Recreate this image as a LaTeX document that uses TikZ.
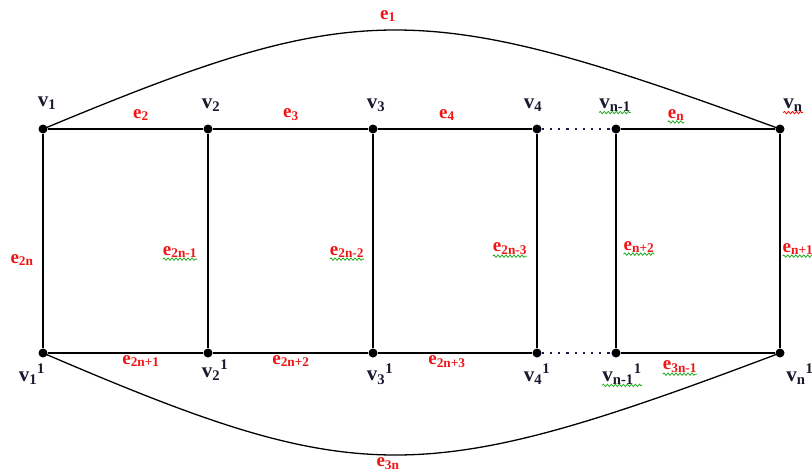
\documentclass[tikz,border=0pt]{standalone}
\usepackage{fontspec}
\setmainfont{Liberation Serif}
\usetikzlibrary{decorations.pathmorphing}
\definecolor{vcol}{RGB}{25,25,45}
\definecolor{ecol}{RGB}{240,20,20}
\definecolor{sqg}{RGB}{40,170,40}
\definecolor{dotcol}{RGB}{20,30,80}
\tikzset{
  vtx/.style={circle,fill=black,inner sep=0pt,minimum size=9pt},
  vlab/.style={text=vcol,font=\fontsize{21}{23}\selectfont\bfseries,inner sep=0pt},
  elab/.style={text=ecol,font=\fontsize{19}{21}\selectfont\bfseries,inner sep=0pt},
  edge/.style={draw=black,line width=1.5pt},
  dots/.style={draw=dotcol,line width=2.2pt,dash pattern=on 2.2pt off 6pt},
  squig/.style={draw=sqg,line width=0.8pt,decorate,decoration={snake,amplitude=1.2pt,segment length=4pt}},
  squigr/.style={squig,draw=red}
}
\begin{document}
\begin{tikzpicture}[x=1pt,y=-1pt]
\useasboundingbox (0,0) rectangle (812,475);
% vertices
\node[vtx] (v1) at (43,129) {};
\node[vtx] (v2) at (208,129) {};
\node[vtx] (v3) at (373,129) {};
\node[vtx] (v4) at (537,129) {};
\node[vtx] (vm) at (616,129) {};
\node[vtx] (vn) at (780,129) {};
\node[vtx] (w1) at (43,353) {};
\node[vtx] (w2) at (208,353) {};
\node[vtx] (w3) at (373,353) {};
\node[vtx] (w4) at (537,353) {};
\node[vtx] (wm) at (616,353) {};
\node[vtx] (wn) at (780,353) {};
% edges
\draw[edge] (v1) -- (v2) -- (v3) -- (v4);
\draw[edge] (vm) -- (vn);
\draw[edge] (w1) -- (w2) -- (w3) -- (w4);
\draw[edge] (wm) -- (wn);
\draw[dots] (v4) -- (vm);
\draw[dots] (w4) -- (wm);
\foreach \a/\b in {v1/w1,v2/w2,v3/w3,v4/w4,vm/wm,vn/wn} \draw[edge] (\a) -- (\b);
\draw[edge,line width=1.3pt] (v1.center) .. controls (360,-3) and (420,-3) .. (vn.center);
\draw[edge,line width=1.3pt] (w1.center) .. controls (360,489) and (420,489) .. (wn.center);
% vertex labels
\node[vlab] (lv1) at (47,103) {v\textsubscript{1}};
\node[vlab] (lv2) at (211,105) {v\textsubscript{2}};
\node[vlab] (lv3) at (376,105) {v\textsubscript{3}};
\node[vlab] (lv4) at (533,105) {v\textsubscript{4}};
\node[vlab] (lvm) at (615,105) {v\textsubscript{n-1}};
\node[vlab] (lvn) at (793,105) {v\textsubscript{n}};
\node[vlab] (lw1) at (32,374) {v\textsubscript{1}\textsuperscript{1}};
\node[vlab] (lw2) at (215,370) {v\textsubscript{2}\textsuperscript{1}};
\node[vlab] (lw3) at (380,374) {v\textsubscript{3}\textsuperscript{1}};
\node[vlab] (lw4) at (537,374) {v\textsubscript{4}\textsuperscript{1}};
\node[vlab] (lwm) at (622,374) {v\textsubscript{n-1}\textsuperscript{1}};
\node[vlab] (lwn) at (800,374) {v\textsubscript{n}\textsuperscript{1}};
% edge labels
\node[elab] (le1) at (388,16) {e\textsubscript{1}};
\node[elab] (le2) at (141,115) {e\textsubscript{2}};
\node[elab] (le3) at (291,115) {e\textsubscript{3}};
\node[elab] (le4) at (447,115) {e\textsubscript{4}};
\node[elab] (len) at (676,115) {e\textsubscript{n}};
\node[elab] (le2n) at (22,260) {e\textsubscript{2n}};
\node[elab] (le2n1) at (180,252) {e\textsubscript{2n-1}};
\node[elab] (le2n2) at (347,252) {e\textsubscript{2n-2}};
\node[elab] (le2n3) at (510,249) {e\textsubscript{2n-3}};
\node[elab] (len2) at (639,247) {e\textsubscript{n+2}};
\node[elab] (len1) at (798,249) {e\textsubscript{n+1}};
\node[elab] (le2p1) at (141,361) {e\textsubscript{2n+1}};
\node[elab] (le2p2) at (291,361) {e\textsubscript{2n+2}};
\node[elab] (le2p3) at (447,362) {e\textsubscript{2n+3}};
\node[elab] (le3m) at (680,367) {e\textsubscript{3n-1}};
\node[elab] (le3n) at (388,464) {e\textsubscript{3n}};
% spell-check squiggles
\draw[squig] ([yshift=-1pt]lvm.south west) -- ([yshift=-1pt]lvm.south east);
\draw[squigr] ([yshift=-1pt]lvn.south west) -- ([yshift=-1pt]lvn.south east);
\draw[squig] ([yshift=-1pt]len.south west) -- ([yshift=-1pt]len.south east);
\draw[squig] ([yshift=-1pt]le2n1.south west) -- ([yshift=-1pt]le2n1.south east);
\draw[squig] ([yshift=-1pt]le2n2.south west) -- ([yshift=-1pt]le2n2.south east);
\draw[squig] ([yshift=-1pt]le2n3.south west) -- ([yshift=-1pt]le2n3.south east);
\draw[squig] ([yshift=-1pt]len2.south west) -- ([yshift=-1pt]len2.south east);
\draw[squig] ([yshift=-1pt]len1.south west) -- ([yshift=-1pt]len1.south east);
\draw[squig] ([yshift=-1pt]lwm.south west) -- ([yshift=-1pt]lwm.south east);
\draw[squig] ([yshift=-1pt]le3m.south west) -- ([yshift=-1pt]le3m.south east);
\end{tikzpicture}
\end{document}
